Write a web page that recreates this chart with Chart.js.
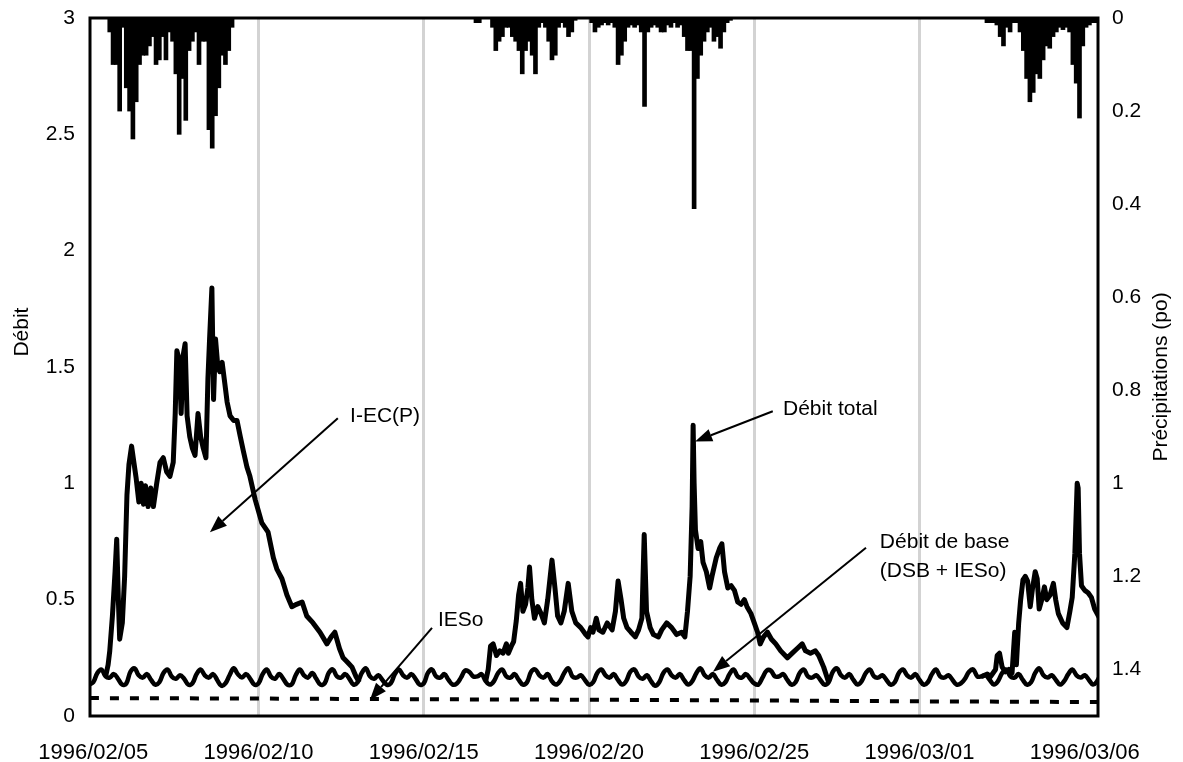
<!DOCTYPE html>
<html>
<head>
<meta charset="utf-8">
<script src="https://cdn.jsdelivr.net/npm/chart.js@4.4.0/dist/chart.umd.min.js"></script>
<style>
  html, body { margin: 0; padding: 0; background: #fff; }
  #wrap { width: 1183px; height: 762px; }
</style>
</head>
<body>
<div id="wrap"><canvas id="chart" width="1183" height="762"></canvas></div>
<script>
// x axis is in days since 1996/02/05 00:00
const dateLabels = ['1996/02/05', '1996/02/10', '1996/02/15', '1996/02/20', '1996/02/25', '1996/03/01', '1996/03/06'];
const labelDays = [0, 5, 10, 15, 20, 25, 30];
const gridDays = [5, 10, 15, 20, 25];
const rainTicks = [0, 0.2, 0.4, 0.6, 0.8, 1, 1.2, 1.4];

// Débit de base (DSB + IESo), one reading every 3 hours starting at day -0.125
const baseStart = -0.125;
const baseStep = 0.125;
const baseFlow = [
  0.135,
  0.145, 0.185, 0.20, 0.17, 0.165, 0.18, 0.16, 0.135,
  0.14, 0.19, 0.205, 0.175, 0.165, 0.18, 0.155, 0.135,
  0.145, 0.185, 0.20, 0.17, 0.16, 0.175, 0.16, 0.135,
  0.14, 0.18, 0.20, 0.175, 0.165, 0.18, 0.155, 0.13,
  0.14, 0.175, 0.205, 0.18, 0.165, 0.18, 0.16, 0.135,
  0.14, 0.18, 0.20, 0.17, 0.16, 0.18, 0.16, 0.135,
  0.135, 0.175, 0.20, 0.175, 0.165, 0.185, 0.16, 0.135,
  0.14, 0.185, 0.20, 0.17, 0.165, 0.18, 0.16, 0.135,
  0.145, 0.185, 0.205, 0.17, 0.16, 0.175, 0.155, 0.135,
  0.14, 0.18, 0.20, 0.175, 0.165, 0.18, 0.16, 0.135,
  0.14, 0.185, 0.20, 0.17, 0.165, 0.18, 0.155, 0.135,
  0.14, 0.165, 0.195, 0.19, 0.17, 0.17, 0.18, 0.15,
  0.135, 0.15, 0.185, 0.20, 0.17, 0.165, 0.18, 0.155,
  0.135, 0.145, 0.19, 0.20, 0.175, 0.165, 0.18, 0.15,
  0.135, 0.15, 0.185, 0.205, 0.17, 0.165, 0.175, 0.155,
  0.135, 0.145, 0.185, 0.20, 0.175, 0.165, 0.18, 0.155,
  0.135, 0.15, 0.19, 0.20, 0.17, 0.16, 0.175, 0.15,
  0.13, 0.145, 0.185, 0.20, 0.175, 0.165, 0.18, 0.155,
  0.135, 0.15, 0.185, 0.205, 0.175, 0.165, 0.18, 0.155,
  0.135, 0.145, 0.18, 0.20, 0.17, 0.165, 0.18, 0.16,
  0.14, 0.135, 0.165, 0.195, 0.195, 0.17, 0.17, 0.18,
  0.155, 0.135, 0.145, 0.185, 0.20, 0.17, 0.165, 0.175,
  0.155, 0.135, 0.145, 0.19, 0.205, 0.175, 0.165, 0.18,
  0.155, 0.135, 0.15, 0.185, 0.20, 0.17, 0.165, 0.175,
  0.155, 0.135, 0.145, 0.185, 0.20, 0.175, 0.165, 0.18,
  0.155, 0.135, 0.145, 0.18, 0.20, 0.17, 0.165, 0.175,
  0.155, 0.135, 0.14, 0.16, 0.19, 0.20, 0.17, 0.17,
  0.175, 0.155, 0.135, 0.15, 0.185, 0.20, 0.17, 0.165,
  0.18, 0.155, 0.135, 0.145, 0.185, 0.205, 0.175, 0.165,
  0.175, 0.155, 0.135, 0.15, 0.18, 0.20, 0.175, 0.165,
  0.175, 0.155, 0.135, 0.15, 0.185, 0.20, 0.17, 0.165,
  0.175, 0.155, 0.135, 0.15, 0.185
];

// IESo
const iesoDays = [-0.1, 5, 10, 15, 20, 25, 30.4];
const iesoFlow = [0.077, 0.075, 0.072, 0.07, 0.067, 0.063, 0.06];

// Débit total during the three events (outside them it equals the base flow)
const ev1Days = [
  0.375, 0.45, 0.50, 0.58, 0.66, 0.71, 0.76, 0.80, 0.88, 0.95,
  1.02, 1.08, 1.16, 1.22, 1.30, 1.38, 1.45, 1.52, 1.58, 1.66,
  1.74, 1.82, 1.92, 2.02, 2.12, 2.22, 2.32, 2.42, 2.48, 2.53,
  2.60, 2.66, 2.72, 2.78, 2.84, 2.92, 3.00, 3.08, 3.17, 3.25,
  3.33, 3.41, 3.47, 3.52, 3.59, 3.64, 3.70, 3.77, 3.83, 3.90,
  3.98, 4.05, 4.14, 4.25, 4.35, 4.45, 4.54, 4.65, 4.74, 4.90,
  5.10, 5.29, 5.45, 5.56, 5.71, 5.86, 6.01, 6.15, 6.32, 6.46,
  6.65, 6.86, 7.07, 7.20, 7.31, 7.45, 7.56, 7.70, 7.83, 7.95,
  8.05
];
const ev1Flow = [
  0.17, 0.22, 0.28, 0.43, 0.62, 0.76, 0.50, 0.33, 0.40, 0.60,
  0.95, 1.08, 1.16, 1.10, 1.02, 0.92, 1.00, 0.91, 0.99, 0.90,
  0.98, 0.90, 1.00, 1.09, 1.11, 1.05, 1.03, 1.09, 1.30, 1.57,
  1.53, 1.30, 1.55, 1.60, 1.29, 1.20, 1.15, 1.12, 1.30, 1.20,
  1.15, 1.11, 1.45, 1.62, 1.84, 1.36, 1.62, 1.50, 1.48, 1.52,
  1.43, 1.35, 1.29, 1.27, 1.27, 1.20, 1.14, 1.07, 1.03, 0.93,
  0.83, 0.79, 0.68, 0.63, 0.59, 0.52, 0.47, 0.48, 0.49, 0.43,
  0.40, 0.36, 0.31, 0.34, 0.36, 0.29, 0.25, 0.23, 0.21, 0.17,
  0.145
];
const ev2Days = [
  11.875, 11.95, 12.02, 12.10, 12.20, 12.30, 12.40, 12.50, 12.56, 12.65,
  12.72, 12.80, 12.87, 12.93, 13.00, 13.08, 13.15, 13.20, 13.27, 13.35,
  13.45, 13.55, 13.65, 13.75, 13.88, 13.97, 14.05, 14.15, 14.25, 14.37,
  14.48, 14.60, 14.75, 14.90, 14.97, 15.05, 15.12, 15.22, 15.30, 15.42,
  15.55, 15.70, 15.80, 15.88, 15.97, 16.05, 16.15, 16.27, 16.40, 16.50,
  16.60, 16.67, 16.74, 16.85, 16.95, 17.10, 17.20, 17.35, 17.50, 17.65,
  17.80, 17.90, 17.98, 18.06, 18.12, 18.15, 18.18, 18.22, 18.30, 18.38,
  18.45, 18.55, 18.65, 18.72, 18.85, 18.95, 19.02, 19.10, 19.20, 19.30,
  19.40, 19.50, 19.60, 19.70, 19.78, 19.90, 20.00, 20.10, 20.18, 20.28,
  20.40, 20.52, 20.65, 20.80, 21.00, 21.15, 21.30, 21.45, 21.55, 21.70,
  21.85, 21.95, 22.10, 22.25
];
const ev2Flow = [
  0.15, 0.20, 0.30, 0.31, 0.26, 0.28, 0.27, 0.31, 0.27, 0.30,
  0.32, 0.41, 0.52, 0.57, 0.45, 0.48, 0.55, 0.64, 0.50, 0.42,
  0.47, 0.44, 0.40, 0.50, 0.67, 0.55, 0.43, 0.40, 0.45, 0.57,
  0.45, 0.40, 0.38, 0.35, 0.34, 0.38, 0.36, 0.42, 0.37, 0.36,
  0.40, 0.37, 0.45, 0.58, 0.50, 0.42, 0.38, 0.36, 0.34, 0.37,
  0.42, 0.78, 0.45, 0.38, 0.35, 0.34, 0.37, 0.40, 0.38, 0.35,
  0.36, 0.34, 0.45, 0.60, 0.90, 1.25, 1.00, 0.80, 0.72, 0.75,
  0.66, 0.62, 0.55, 0.60, 0.68, 0.72, 0.74, 0.62, 0.55, 0.56,
  0.54, 0.49, 0.48, 0.50, 0.47, 0.44, 0.40, 0.36, 0.31, 0.34,
  0.36, 0.33, 0.31, 0.28, 0.25, 0.27, 0.29, 0.31, 0.28, 0.27,
  0.28, 0.26, 0.21, 0.145
];
const ev3Days = [
  26.875, 27.05, 27.15, 27.30, 27.35, 27.42, 27.50, 27.60, 27.70, 27.80,
  27.88, 27.93, 28.00, 28.06, 28.13, 28.20, 28.27, 28.35, 28.42, 28.50,
  28.56, 28.62, 28.70, 28.78, 28.85, 28.95, 29.05, 29.12, 29.20, 29.33,
  29.46, 29.55, 29.62, 29.70, 29.77, 29.80, 29.84, 29.90, 30.00, 30.10,
  30.20, 30.30, 30.45
];
const ev3Flow = [
  0.17, 0.18, 0.17, 0.20, 0.26, 0.27, 0.21, 0.19, 0.20, 0.185,
  0.36, 0.22, 0.40, 0.50, 0.585, 0.60, 0.58, 0.47, 0.55, 0.62,
  0.59, 0.46, 0.50, 0.555, 0.50, 0.52, 0.57, 0.50, 0.44, 0.40,
  0.38, 0.45, 0.51, 0.70, 1.00, 0.98, 0.70, 0.56, 0.54, 0.53,
  0.51, 0.46, 0.42
];

// Précipitations (po), one bar every 0.1 day for each rainy spell
const rainStep = 0.1;
const rain1Start = 0.5;
const rain1 = [
  0.03, 0.10, 0.10, 0.20, 0.02, 0.15, 0.20, 0.26, 0.18, 0.10,
  0.08, 0.08, 0.06, 0.04, 0.10, 0.09, 0.04, 0.09, 0.03, 0.05,
  0.12, 0.25, 0.13, 0.22, 0.07, 0.05, 0.03, 0.10, 0.05, 0.05,
  0.24, 0.28, 0.21, 0.15, 0.08, 0.10, 0.07, 0.02
];
const rain2Start = 11.58;
const rain2 = [
  0.01, 0.01, 0, 0, 0, 0.02, 0.07, 0.05, 0.04, 0.02,
  0.02, 0.04, 0.05, 0.07, 0.12, 0.07, 0.05, 0.08, 0.12, 0.02,
  0.01, 0.02, 0.05, 0.09, 0.08, 0.02, 0.01, 0.02, 0.04, 0.03,
  0.005, 0, 0, 0, 0, 0.01, 0.03, 0.02, 0.015, 0.01,
  0.015, 0.01, 0.02, 0.10, 0.08, 0.05, 0.02, 0.015, 0.02, 0.015,
  0.03, 0.19, 0.03, 0.02, 0.015, 0.02, 0.03, 0.03, 0.015, 0.02,
  0.01, 0.02, 0.015, 0.04, 0.07, 0.07, 0.41, 0.13, 0.08, 0.05,
  0.03, 0.02, 0.05, 0.04, 0.065, 0.03, 0.01, 0.005
];
const rain3Start = 27.04;
const rain3 = [
  0.01, 0.01, 0.01, 0.015, 0.04, 0.06, 0.02, 0.03, 0.01, 0.01,
  0.03, 0.07, 0.13, 0.18, 0.16, 0.12, 0.13, 0.09, 0.06, 0.065,
  0.04, 0.03, 0.02, 0.025, 0.02, 0.03, 0.10, 0.14, 0.215, 0.06,
  0.02, 0.015, 0.01, 0.01
];

// annotations, in data units (day, Débit)
const notes = [
  { text: 'I-EC(P)', day: 8.83, value: 1.29, align: 'center' },
  { text: 'Débit total', day: 20.87, value: 1.32, align: 'left' },
  { text: 'Débit de base', day: 23.8, value: 0.745, align: 'left' },
  { text: '(DSB + IESo)', day: 23.8, value: 0.624, align: 'left' },
  { text: 'IESo', day: 10.43, value: 0.413, align: 'left' }
];
const arrows = [
  { from: [7.40, 1.28], to: [3.53, 0.79] },
  { from: [20.56, 1.31], to: [18.21, 1.18] },
  { from: [23.38, 0.723], to: [18.75, 0.19] },
  { from: [10.25, 0.379], to: [8.37, 0.069] }
];

const FONT = '"Liberation Sans", Arial, sans-serif';
Chart.defaults.font.family = FONT;
Chart.defaults.font.size = 21;
Chart.defaults.color = '#000';

const basePoints = baseFlow.map((v, i) => ({ x: baseStart + i * baseStep, y: v }));
const iesoPoints = iesoFlow.map((v, i) => ({ x: iesoDays[i], y: v }));
const totalPoints = [];
[[ev1Days, ev1Flow], [ev2Days, ev2Flow], [ev3Days, ev3Flow]].forEach(([days, flow], k) => {
  if (k > 0) totalPoints.push({ x: days[0] - 0.01, y: null });
  days.forEach((d, i) => totalPoints.push({ x: d, y: flow[i] }));
});
const rainPoints = [];
[[rain1Start, rain1], [rain2Start, rain2], [rain3Start, rain3]].forEach(([start, vals]) => {
  vals.forEach((v, i) => rainPoints.push({ x: start + i * rainStep, y: v }));
});

function drawArrow(ctx, x1, y1, x2, y2) {
  const ang = Math.atan2(y2 - y1, x2 - x1);
  const len = 17, half = 6.5;
  const bx = x2 - len * Math.cos(ang);
  const by = y2 - len * Math.sin(ang);
  ctx.beginPath();
  ctx.moveTo(x1, y1);
  ctx.lineTo(bx, by);
  ctx.stroke();
  ctx.beginPath();
  ctx.moveTo(x2, y2);
  ctx.lineTo(bx + half * Math.sin(ang), by - half * Math.cos(ang));
  ctx.lineTo(bx - half * Math.sin(ang), by + half * Math.cos(ang));
  ctx.closePath();
  ctx.fill();
}

function vTitle(ctx, text, cx, cy) {
  ctx.save();
  ctx.translate(cx, cy);
  ctx.rotate(-Math.PI / 2);
  ctx.textAlign = 'center';
  ctx.textBaseline = 'middle';
  ctx.fillText(text, 0, 0);
  ctx.restore();
}

const overlay = {
  id: 'overlay',
  afterDatasetsDraw(chart) {
    const { ctx, chartArea: a, scales: { x, y } } = chart;
    ctx.save();
    ctx.strokeStyle = '#000';
    ctx.fillStyle = '#000';
    ctx.lineWidth = 3;
    ctx.strokeRect(a.left, a.top, a.right - a.left, a.bottom - a.top);

    ctx.font = '21px ' + FONT;
    ctx.textBaseline = 'middle';
    notes.forEach(n => {
      ctx.textAlign = n.align;
      ctx.fillText(n.text, x.getPixelForValue(n.day), y.getPixelForValue(n.value));
    });

    ctx.lineWidth = 2;
    arrows.forEach(ar => {
      drawArrow(ctx,
        x.getPixelForValue(ar.from[0]), y.getPixelForValue(ar.from[1]),
        x.getPixelForValue(ar.to[0]), y.getPixelForValue(ar.to[1]));
    });

    // both axis titles read bottom to top
    vTitle(ctx, 'Débit', 22, y.getPixelForValue(1.65));
    vTitle(ctx, 'Précipitations (po)', chart.width - 22, (a.top + a.bottom) / 2 + 10);
    ctx.restore();
  }
};

new Chart(document.getElementById('chart'), {
  type: 'line',
  data: {
    datasets: [
      {
        label: 'IESo',
        data: iesoPoints,
        borderColor: '#000',
        borderWidth: 4,
        borderDash: [9, 11],
        pointRadius: 0,
        tension: 0,
        yAxisID: 'y'
      },
      {
        label: 'Débit de base',
        data: basePoints,
        borderColor: '#000',
        borderWidth: 4.5,
        pointRadius: 0,
        tension: 0.4,
        yAxisID: 'y'
      },
      {
        label: 'Débit total',
        data: totalPoints,
        borderColor: '#000',
        borderWidth: 5,
        pointRadius: 0,
        tension: 0,
        spanGaps: false,
        borderJoinStyle: 'round',
        yAxisID: 'y'
      },
      {
        type: 'bar',
        label: 'Précipitations',
        data: rainPoints,
        backgroundColor: '#000',
        borderWidth: 0,
        barThickness: 4,
        grouped: false,
        yAxisID: 'y2'
      }
    ]
  },
  options: {
    responsive: false,
    animation: false,
    devicePixelRatio: 1,
    layout: { padding: { top: 18, left: 0, right: 0, bottom: 0 } },
    plugins: { legend: { display: false }, tooltip: { enabled: false } },
    scales: {
      x: {
        type: 'linear',
        min: -0.098,
        max: 30.40,
        offset: false,
        afterBuildTicks: (s) => { s.ticks = labelDays.map(v => ({ value: v })); },
        afterFit: (s) => { s.height = 46; s.paddingLeft = 0; s.paddingRight = 0; },
        ticks: {
          autoSkip: false,
          maxRotation: 0,
          padding: 24,
          font: { size: 22 },
          callback: (v) => dateLabels[labelDays.indexOf(v)]
        },
        grid: {
          drawTicks: false,
          offset: false,
          lineWidth: 3,
          color: (c) => gridDays.includes(c.tick && c.tick.value) ? '#d3d3d3' : 'rgba(0,0,0,0)'
        },
        border: { display: false }
      },
      y: {
        position: 'left',
        min: 0,
        max: 3,
        ticks: { stepSize: 0.5, padding: 15, callback: (v) => String(v) },
        grid: { display: false, drawTicks: false },
        border: { display: false },
        afterFit: (s) => { s.width = 90; s.paddingTop = 0; s.paddingBottom = 0; }
      },
      y2: {
        position: 'right',
        min: 0,
        max: 1.5,
        reverse: true,
        afterBuildTicks: (s) => { s.ticks = rainTicks.map(v => ({ value: v })); },
        ticks: { padding: 14, callback: (v) => String(v) },
        grid: { display: false, drawTicks: false },
        border: { display: false },
        afterFit: (s) => { s.width = 85; s.paddingTop = 0; s.paddingBottom = 0; }
      }
    }
  },
  plugins: [overlay]
});
</script>
</body>
</html>
